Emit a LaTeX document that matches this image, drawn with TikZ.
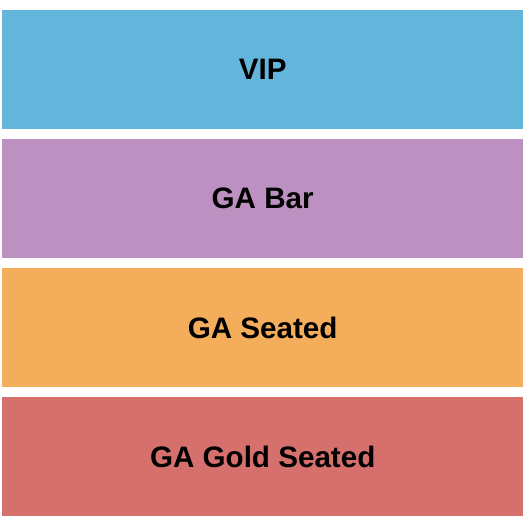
\documentclass[tikz,border=0pt]{standalone}
\usepackage{fontspec}
\setmainfont{Liberation Sans}
\definecolor{vipc}{HTML}{63B5DC}
\definecolor{barc}{HTML}{BD90C2}
\definecolor{seatc}{HTML}{F4AD5A}
\definecolor{goldc}{HTML}{D5706D}
\tikzset{
  zone/.style={inner sep=0pt, minimum width=521bp, minimum height=118.5bp, anchor=north west,
    font=\fontsize{29.6bp}{32bp}\selectfont\bfseries, text=black},
}
\begin{document}
\begin{tikzpicture}[x=1bp,y=-1bp]
\useasboundingbox (0,0) rectangle (525,525);
\node[zone, fill=vipc] (vip) at (2,10) {VIP};
\node[zone, fill=barc] (bar) at (2,139) {GA Bar};
\node[zone, fill=seatc] (seated) at (2,268) {GA Seated};
\node[zone, fill=goldc] (gold) at (2,397) {GA Gold Seated};
\end{tikzpicture}
\end{document}
